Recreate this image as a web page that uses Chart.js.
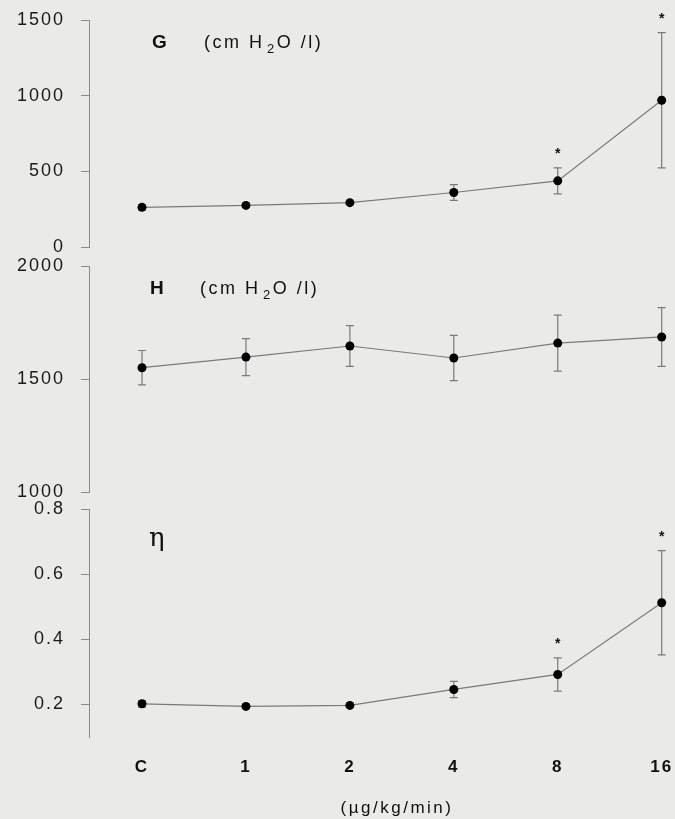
<!DOCTYPE html>
<html>
<head>
<meta charset="utf-8">
<script src="https://cdn.jsdelivr.net/npm/chart.js@4"></script>
<style>
body { margin: 0; background: #eaeae9; }
#wrap { position: relative; width: 675px; height: 819px; overflow: hidden; }
canvas { position: absolute; left: 0; }
</style>
</head>
<body>
<div id="wrap">
  <canvas id="gChart" width="675" height="258" style="top:0px"></canvas>
  <canvas id="hChart" width="675" height="250" style="top:252px"></canvas>
  <canvas id="eChart" width="675" height="323" style="top:496px"></canvas>
</div>
<script>
// doses (x categories)
var categories = ["C", "1", "2", "4", "8", "16"];

// G panel (cmH2O/l)
var gMean = [262, 275, 293, 360, 437, 970];
var gErr = [18, 8, 8, 52, 86, 447];
var gStars = [false, false, false, false, true, true];
var gTicks = [0, 500, 1000, 1500];

// H panel (cmH2O/l)
var hMean = [1550, 1597, 1646, 1593, 1659, 1686];
var hErr = [76, 82, 90, 100, 124, 130];
var hStars = [false, false, false, false, false, false];
var hTicks = [1000, 1500, 2000];

// eta panel
var eMean = [0.202, 0.194, 0.197, 0.246, 0.292, 0.512];
var eErr = [0.01, 0.004, 0.004, 0.025, 0.051, 0.16];
var eStars = [false, false, false, false, true, true];
var eTicks = [0.2, 0.4, 0.6, 0.8];

var axisGrey = "#8a8a8a";
var tickFont = { family: "'Liberation Sans', Arial, sans-serif", size: 18 };

var errorBars = {
    id: "errorBars",
    beforeDatasetsDraw: function (chart) {
        var ctx = chart.ctx;
        var ds = chart.data.datasets[0];
        var xs = chart.scales.x, ys = chart.scales.y;
        ctx.save();
        ctx.strokeStyle = "#7a7a7a";
        ctx.lineWidth = 1.2;
        ds.data.forEach(function (p, i) {
            var e = ds.errors[i];
            var x = xs.getPixelForValue(p.x);
            var top = ys.getPixelForValue(p.y + e);
            var bot = ys.getPixelForValue(p.y - e);
            ctx.beginPath();
            ctx.moveTo(x, top); ctx.lineTo(x, bot);
            ctx.moveTo(x - 4, top); ctx.lineTo(x + 4, top);
            ctx.moveTo(x - 4, bot); ctx.lineTo(x + 4, bot);
            ctx.stroke();
            if (ds.stars[i]) {
                ctx.fillStyle = "#111";
                ctx.letterSpacing = "0px";
                ctx.font = "bold 14px 'Liberation Sans', Arial, sans-serif";
                ctx.textAlign = "center";
                ctx.textBaseline = "alphabetic";
                ctx.fillText("*", x, top - 10);
            }
        });
        ctx.restore();
    }
};

var panelText = {
    id: "panelText",
    beforeDraw: function (chart) {
        chart.ctx.letterSpacing = "2px";
    },
    afterDraw: function (chart) {
        var o = chart.options.plugins.panelText;
        var ctx = chart.ctx;
        var top = chart.chartArea.top;
        ctx.save();
        ctx.fillStyle = "#111";
        ctx.textBaseline = "middle";
        ctx.textAlign = "left";
        if (o.eta) {
            ctx.letterSpacing = "0px";
            ctx.font = "26px 'DejaVu Serif', 'Liberation Serif', serif";
            ctx.textBaseline = "alphabetic";
            ctx.fillText("\u03b7", 149, top + 37);
        } else {
            ctx.letterSpacing = "0px";
            ctx.font = "bold 19px 'Liberation Sans', Arial, sans-serif";
            ctx.fillText(o.title, o.titleX, top + 23);
            ctx.letterSpacing = "2.5px";
            ctx.font = "18px 'Liberation Sans', Arial, sans-serif";
            var x = o.unitX, y = top + 23;
            var parts = ["(cm H ", "2", "O /l)"];
            ctx.fillText(parts[0], x, y);
            x += ctx.measureText(parts[0]).width - 5;
            ctx.font = "13px 'Liberation Sans', Arial, sans-serif";
            ctx.fillText(parts[1], x, y + 6);
            x += ctx.measureText(parts[1]).width;
            ctx.font = "18px 'Liberation Sans', Arial, sans-serif";
            ctx.fillText(parts[2], x, y);
        }
        if (o.xTitle) {
            ctx.letterSpacing = "2.5px";
            ctx.font = "17px 'Liberation Sans', Arial, sans-serif";
            ctx.textAlign = "center";
            ctx.textBaseline = "middle";
            ctx.fillText(o.xTitle, 397, chart.height - 11);
        }
        ctx.restore();
    }
};

function makePanel(id, mean, err, stars, ticks, yMin, yMax, pad, extra) {
    var showX = !!extra.showX;
    return new Chart(document.getElementById(id).getContext("2d"), {
        type: "line",
        data: {
            datasets: [{
                data: mean.map(function (v, i) { return { x: i, y: v }; }),
                errors: err,
                stars: stars,
                borderColor: "#7a7a7a",
                borderWidth: 1.2,
                pointRadius: 4.5,
                pointBackgroundColor: "#000",
                pointBorderColor: "#000",
                pointBorderWidth: 0,
                tension: 0,
                fill: false
            }]
        },
        options: {
            responsive: false,
            animation: false,
            layout: { padding: pad },
            plugins: {
                legend: { display: false },
                tooltip: { enabled: false },
                panelText: extra
            },
            scales: {
                x: {
                    type: "linear",
                    min: -0.51,
                    max: 5.08,
                    display: showX,
                    grid: { display: false, drawTicks: false },
                    border: { display: false },
                    afterBuildTicks: function (s) {
                        s.ticks = categories.map(function (c, i) { return { value: i }; });
                    },
                    afterFit: function (s) {
                        s.paddingLeft = 0;
                        s.paddingRight = 0;
                        if (showX) s.height = 82;
                    },
                    ticks: {
                        autoSkip: false,
                        maxRotation: 0,
                        padding: 20,
                        color: "#111",
                        font: { family: "'Liberation Sans', Arial, sans-serif", size: 17, weight: "bold" },
                        callback: function (v, i) { return categories[i]; }
                    }
                },
                y: {
                    min: yMin,
                    max: yMax,
                    afterBuildTicks: function (s) {
                        s.ticks = ticks.map(function (v) { return { value: v }; });
                    },
                    afterFit: function (s) {
                        s.width = 89;
                        s.paddingTop = 0;
                        s.paddingBottom = 0;
                    },
                    grid: { drawOnChartArea: false, tickLength: 8, color: axisGrey, lineWidth: 1 },
                    border: { color: axisGrey, width: 1 },
                    ticks: {
                        padding: 16,
                        color: "#1a1a1a",
                        font: tickFont,
                        callback: function (v) { return String(v); }
                    }
                }
            }
        },
        plugins: [errorBars, panelText]
    });
}

makePanel("gChart", gMean, gErr, gStars, gTicks, 0, 1500,
    { top: 20, bottom: 11, left: 0, right: 5 },
    { title: "G", titleX: 152, unitX: 204 });
makePanel("hChart", hMean, hErr, hStars, hTicks, 1000, 2000,
    { top: 14, bottom: 10, left: 0, right: 5 },
    { title: "H", titleX: 150, unitX: 200 });
makePanel("eChart", eMean, eErr, eStars, eTicks, 0.1, 0.8,
    { top: 13, bottom: 0, left: 0, right: 5 },
    { eta: true, showX: true, xTitle: "(\u00b5g/kg/min)" });
</script>
</body>
</html>
